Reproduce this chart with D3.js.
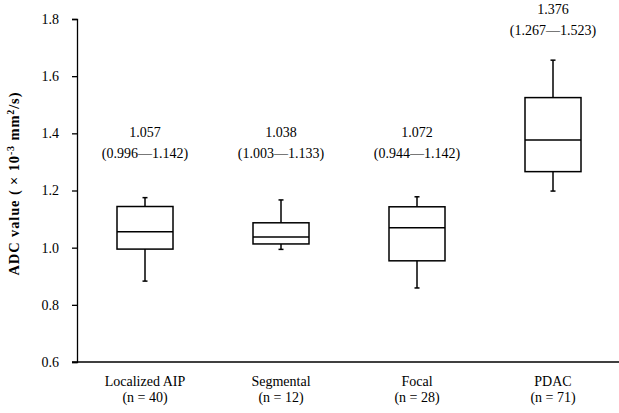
<!DOCTYPE html>
<html>
<head>
<meta charset="utf-8">
<script src="https://cdn.jsdelivr.net/npm/d3@7"></script>
<style>
  body { margin: 0; background: #fff; }
  svg text { font-family: "Liberation Serif", "Times New Roman", serif; fill: #000; }
</style>
</head>
<body>
<div id="chart"></div>
<script>
// data
const categories = ["Localized AIP", "Segmental", "Focal", "PDAC"];
const counts = [40, 12, 28, 71];
const whiskerLow = [0.883, 0.994, 0.859, 1.198];
const q1 = [0.995, 1.013, 0.954, 1.266];
const median = [1.056, 1.037, 1.070, 1.377];
const q3 = [1.144, 1.087, 1.143, 1.525];
const whiskerHigh = [1.175, 1.167, 1.178, 1.656];
const medianText = ["1.057", "1.038", "1.072", "1.376"];
const rangeText = ["(0.996\u20141.142)", "(1.003\u20141.133)", "(0.944\u20141.142)", "(1.267\u20141.523)"];
const yTicks = [0.6, 0.8, 1.0, 1.2, 1.4, 1.6, 1.8];

const width = 619, height = 413;
const margin = { top: 19, right: -2, bottom: 51, left: 77 };

const svg = d3.select("#chart").append("svg")
  .attr("width", width)
  .attr("height", height);

const x = d3.scaleBand()
  .domain(categories)
  .range([margin.left, width - margin.right])
  .padding(0);

const y = d3.scaleLinear()
  .domain([0.6, 1.8])
  .range([height - margin.bottom, margin.top]);

// y axis
const yAxis = svg.append("g")
  .attr("transform", "translate(" + margin.left + ",0)")
  .call(d3.axisLeft(y).tickValues(yTicks).tickFormat(d3.format(".1f")).tickSizeOuter(0).tickSize(5).tickPadding(13));
yAxis.select(".domain").attr("stroke", "#000").attr("stroke-width", 1.3);
yAxis.selectAll(".tick line").attr("stroke", "#000").attr("stroke-width", 1.3);
yAxis.selectAll(".tick text")
  .attr("font-family", "Liberation Serif")
  .attr("font-size", 14)
  .attr("fill", "#000");

// x axis line
svg.append("line")
  .attr("x1", margin.left - 5)
  .attr("x2", width)
  .attr("y1", y(0.6))
  .attr("y2", y(0.6))
  .attr("stroke", "#000")
  .attr("stroke-width", 1.3);

// y title
const title = svg.append("text")
  .attr("transform", "translate(19,184) rotate(-90)")
  .attr("text-anchor", "middle")
  .attr("font-size", 14.5)
  .attr("font-weight", "bold")
  .attr("textLength", 183)
  .attr("lengthAdjust", "spacing");
title.append("tspan").text("ADC value ( \u00d7 10");
title.append("tspan").attr("dy", -5).attr("font-size", 10).text("-3");
title.append("tspan").attr("dy", 5).text(" mm");
title.append("tspan").attr("dy", -5).attr("font-size", 10).text("2");
title.append("tspan").attr("dy", 5).text("/s)");

const boxW = 56;
const capW = 5;

categories.forEach((cat, i) => {
  const cx = x(cat) + x.bandwidth() / 2;
  const g = svg.append("g").attr("stroke", "#000").attr("stroke-width", 1.5).attr("fill", "none");

  // whisker
  g.append("line")
    .attr("x1", cx).attr("x2", cx)
    .attr("y1", y(whiskerHigh[i])).attr("y2", y(q3[i]));
  g.append("line")
    .attr("x1", cx).attr("x2", cx)
    .attr("y1", y(q1[i])).attr("y2", y(whiskerLow[i]));
  [whiskerHigh[i], whiskerLow[i]].forEach(v => {
    g.append("line")
      .attr("x1", cx - capW / 2).attr("x2", cx + capW / 2)
      .attr("y1", y(v)).attr("y2", y(v));
  });

  // box
  g.append("rect")
    .attr("x", cx - boxW / 2)
    .attr("width", boxW)
    .attr("y", y(q3[i]))
    .attr("height", y(q1[i]) - y(q3[i]));
  g.append("line")
    .attr("x1", cx - boxW / 2).attr("x2", cx + boxW / 2)
    .attr("y1", y(median[i])).attr("y2", y(median[i]));

  // annotations above
  const labelV = Math.max(1.4, whiskerHigh[i] + 0.175);
  svg.append("text")
    .attr("x", cx)
    .attr("y", y(labelV) + 4)
    .attr("text-anchor", "middle")
    .attr("font-size", 14)
    .text(medianText[i]);
  svg.append("text")
    .attr("x", cx)
    .attr("y", y(labelV) + 25)
    .attr("text-anchor", "middle")
    .attr("font-size", 14)
    .text(rangeText[i]);

  // category labels
  svg.append("text")
    .attr("x", cx)
    .attr("y", y(0.6) + 24)
    .attr("text-anchor", "middle")
    .attr("font-size", 14)
    .text(cat);
  svg.append("text")
    .attr("x", cx)
    .attr("y", y(0.6) + 40)
    .attr("text-anchor", "middle")
    .attr("font-size", 14)
    .text("(n = " + counts[i] + ")");
});
</script>
</body>
</html>
